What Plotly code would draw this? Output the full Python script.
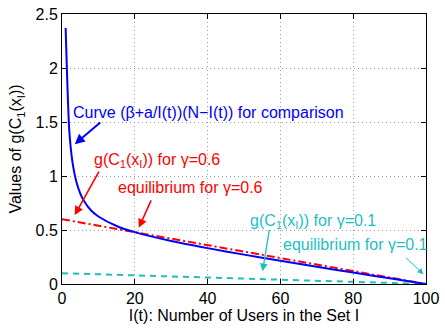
import plotly.graph_objects as go

# Blue curve (beta + a/I(t))(N - I(t))
curve_x = [1, 2, 3, 4, 5, 6, 8, 10, 15, 20, 30, 40, 50, 60, 70, 80, 90, 100]
curve_y = [2.37, 1.42, 1.10, 0.94, 0.84, 0.77, 0.68, 0.625, 0.537, 0.48,
           0.398, 0.332, 0.272, 0.215, 0.160, 0.106, 0.053, 0.0]

# g(C1(xI)) lines for gamma = 0.6 and gamma = 0.1
red_x = [0, 100]
red_y = [0.6, 0.0]
cyan_x = [0, 100]
cyan_y = [0.1, 0.0]

x_ticks = [0, 20, 40, 60, 80, 100]
y_ticks = [0, 0.5, 1, 1.5, 2, 2.5]
y_tick_labels = ["0", "0.5", "1", "1.5", "2", "2.5"]

BLUE = "#0000ff"
RED = "#ff0000"
CYAN = "#1cbfbf"
FONT = "Liberation Sans, Arial, sans-serif"

fig = go.Figure()
fig.add_trace(go.Scatter(x=cyan_x, y=cyan_y, mode="lines",
                         line=dict(color=CYAN, width=2, dash="6px,5px")))
fig.add_trace(go.Scatter(x=red_x, y=red_y, mode="lines",
                         line=dict(color=RED, width=2, dash="8px,3px,2px,3px")))
fig.add_trace(go.Scatter(x=curve_x, y=curve_y, mode="lines",
                         line=dict(color=BLUE, width=2, shape="spline", smoothing=0.6)))

def arrow(x, y, ax, ay, color, width, head_size):
    fig.add_annotation(x=x, y=y, ax=ax, ay=ay, xref="x", yref="y",
                       showarrow=True, arrowhead=2, arrowsize=head_size,
                       arrowwidth=width, arrowcolor=color, text="")

def label(x, y, text, color):
    fig.add_annotation(x=x, y=y, xref="x", yref="y", text=text, showarrow=False,
                       xanchor="left", yanchor="middle",
                       font=dict(family=FONT, size=16, color=color))

label(2.5, 1.592, "Curve (β+a/I(t))(N−I(t)) for comparison", BLUE)
label(8.2, 1.142, "g(C<sub>1</sub>(x<sub>I</sub>)) for γ=0.6", RED)
label(14.9, 0.89, "equilibrium for γ=0.6", RED)
label(51.2, 0.576, "g(C<sub>1</sub>(x<sub>I</sub>)) for γ=0.1", CYAN)
label(60.1, 0.369, "equilibrium for γ=0.1", CYAN)

arrow(3.5, 1.295, 27, -23, BLUE, 2, 1.0)
arrow(3.5, 0.638, 25, -45, RED, 1.6, 1.1)
arrow(21.1, 0.52, 13, -29, RED, 1.6, 1.1)
arrow(55.1, 0.117, 7, -43, CYAN, 1.3, 1.2)
arrow(99.3, 0.09, -19, -18, CYAN, 1, 1.2)

axis_common = dict(showline=True, linecolor="black", linewidth=1, mirror="ticks",
                   ticks="inside", ticklen=5, tickcolor="black",
                   showgrid=True, gridcolor="#9a9a9a", griddash="1px,3px", gridwidth=1,
                   zeroline=False, ticklabeloverflow="allow",
                   tickfont=dict(family=FONT, size=16, color="black"))

fig.update_xaxes(range=[0, 100], tickvals=x_ticks,
                 title=dict(text="I(t): Number of Users in the Set I", standoff=1,
                            font=dict(family=FONT, size=16, color="black")),
                 **axis_common)
fig.update_yaxes(range=[0, 2.5], tickvals=y_ticks, ticktext=y_tick_labels,
                 title=dict(text="Values of g(C<sub>1</sub>(x<sub>I</sub>))", standoff=9,
                            font=dict(family=FONT, size=16, color="black")),
                 **axis_common)

fig.update_layout(width=445, height=328, showlegend=False,
                  margin=dict(l=62, r=13, t=6, b=44),
                  plot_bgcolor="white", paper_bgcolor="white")

fig.write_html("out.html")
